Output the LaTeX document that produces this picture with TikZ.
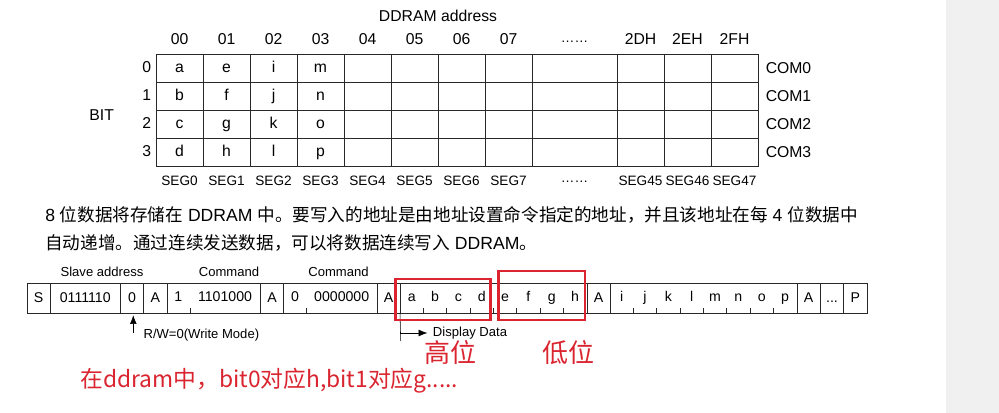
\documentclass[tikz,border=0pt]{standalone}
\usepackage{fontspec}
\setmainfont{Liberation Sans}
\newfontfamily\cjk{Noto Sans CJK SC}
\usetikzlibrary{arrows.meta}
\definecolor{markred}{RGB}{218,37,48}
\definecolor{sidegray}{RGB}{240,240,240}
\definecolor{gridline}{RGB}{40,40,40}
\tikzstyle{label} = [
    inner sep=0pt,
    text height=1.55ex,
    text depth=0.4ex,
    font=\fontsize{11.8pt}{13pt}\selectfont
]
\tikzstyle{seglabel} = [
    inner sep=0pt,
    font=\fontsize{10.2pt}{11pt}\selectfont
]
\tikzstyle{comlabel} = [
    inner sep=0pt,
    anchor=west,
    font=\fontsize{11.8pt}{13pt}\selectfont
]
\tikzstyle{cell} = [
    rectangle,
    draw=gridline,
    anchor=north west,
    minimum height=22.5pt,
    inner sep=0pt,
    text height=1.55ex,
    text depth=0.4ex,
    font=\fontsize{10.6pt}{12pt}\selectfont
]
\tikzstyle{small} = [
    inner sep=0pt,
    font=\fontsize{9.8pt}{11pt}\selectfont
]
\tikzstyle{para} = [
    inner sep=0pt,
    anchor=west,
    font=\fontsize{13.2pt}{15pt}\selectfont
]
\tikzstyle{redbox} = [draw=markred, line width=2.2pt]
\tikzstyle{redtext} = [
    inner sep=0pt,
    text=markred,
    font=\cjk\fontsize{19.5pt}{22pt}\selectfont
]
\tikzstyle{arrow} = [-{Latex[length=6.5pt,width=5pt]}]

\begin{document}
\begin{tikzpicture}[x=0.75pt, y=-0.75pt]
\useasboundingbox (0,0) rectangle (999,413);
\fill[sidegray] (946,0) rectangle (999,413);

% DDRAM map
\node (title) [label] at (438,17) {DDRAM address};
\draw[gridline] (156,54) rectangle (758,166);
\foreach \y in {82,110,138}
    \draw[gridline] (156,\y) -- (758,\y);
\foreach \x in {203,250,297,344,391,438,485,532,617,664,711}
    \draw[gridline] (\x,54) -- (\x,166);
\foreach \x/\t in {179.5/00,226.5/01,273.5/02,320.5/03,367.5/04,414.5/05,
    461.5/06,508.5/07,640.5/2DH,687.5/2EH,734.5/2FH}
    \node [label] at (\x,40) {\t};
\node (adrdots) [seglabel] at (574.5,42) {……};
\foreach \x/\t in {179.5/0,226.5/1,273.5/2,320.5/3,367.5/4,414.5/5,
    461.5/6,508.5/7,640.5/45,687.5/46,734.5/47}
    \node [seglabel] at (\x,181) {SEG\t};
\node (segdots) [seglabel] at (574.5,182) {……};
\foreach \r in {0,1,2,3} {
    \node (bit\r) [label] at (146.7,68.3+28*\r) {\r};
    \node (com\r) [comlabel] at (765.5,68.3+28*\r) {COM\r};
}
\node (bit) [label] at (101.7,116) {BIT};
\foreach \c/\la/\lb/\lc/\ld in {0/a/b/c/d,1/e/f/g/h,2/i/j/k/l,3/m/n/o/p} {
    \node [label] at (179.5+47*\c,68.3) {\la};
    \node [label] at (179.5+47*\c,96.3) {\lb};
    \node [label] at (179.5+47*\c,124.3) {\lc};
    \node [label] at (179.5+47*\c,152.3) {\ld};
}

% text
\node (line1) [para] at (45,215) {8 {\cjk 位数据将存储在} DDRAM {\cjk 中。要写入的地址是由地址设置命令指定的地址，并且该地址在每} 4 {\cjk 位数据中}};
\node (line2) [para] at (45,243) {{\cjk 自动递增。通过连续发送数据，可以将数据连续写入} DDRAM{\cjk 。}};

% write frame
\foreach \n/\s/\w/\t in {st/0/1/S,sa/1/3/0111110,rw/4/1/0,ak1/5/1/A,cmd1/6/4/,
    ak2/10/1/A,cmd2/11/4/,ak3/15/1/A,dat1/16/8/,ak4/24/1/A,dat2/25/8/,
    ak5/33/1/A,more/34/1/,sp/35/1/P}
    \node (\n) [cell, minimum width=\w*17.5pt] at (26.7+23.333*\s,282.7) {\t};
\node [cell, draw=none, anchor=center] at (more.center) {...};
\node [cell, draw=none, anchor=center] at (178.3,297.7) {1};
\node [cell, draw=none, anchor=center] at (225,297.7) {1101000};
\node [cell, draw=none, anchor=center] at (295,297.7) {0};
\node [cell, draw=none, anchor=center] at (341.7,297.7) {0000000};
\draw[gridline] (190,312.7) -- (190,308);
\draw[gridline] (306.7,312.7) -- (306.7,308);
\foreach \i/\la/\lb in {0/a/i,1/b/j,2/c/k,3/d/l,4/e/m,5/f/n,6/g/o,7/h/p} {
    \node [cell, draw=none, anchor=center] at (411.7+23.333*\i,297.7) {\la};
    \node [cell, draw=none, anchor=center] at (621.7+23.333*\i,297.7) {\lb};
}
\foreach \i in {1,2,3,4,5,6,7} {
    \draw[gridline] (400+23.333*\i,312.7) -- (400+23.333*\i,308);
    \draw[gridline] (610+23.333*\i,312.7) -- (610+23.333*\i,308);
}
\node (slave) [small] at (102,271.5) {Slave address};
\node (cmdA) [small] at (229,271.5) {Command};
\node (cmdB) [small] at (338.5,271.5) {Command};

% annotations
\node (rwtext) [small, anchor=west] at (143.3,335) {R/W=0(Write Mode)};
\coordinate (rwtail) at (133.3,333);
\draw[arrow] (rwtail) -- (rwtail |- rw.south) [shorten >=1.5pt];
\node (dd) [small, anchor=west] at (432.7,333) {Display Data};
\coordinate (ddfoot) at (400.7,341);
\draw (dat1.south west) -- (ddfoot);
\draw[arrow] (dat1.south west |- dd.west) -- (dd.west) [shorten >=4pt];

% marks
\draw[redbox] (395.7,279) rectangle (490.5,320);
\draw[redbox] (498.5,271) rectangle (585,320);
\node (high) [redtext] at (450,353) {高位};
\node (low) [redtext] at (568,353) {低位};
\node (note) [redtext, anchor=west, font=\cjk\fontsize{17.1pt}{20pt}\selectfont] at (80,381)
    {在ddram中，bit0对应h,bit1对应g.....};
\end{tikzpicture}
\end{document}
